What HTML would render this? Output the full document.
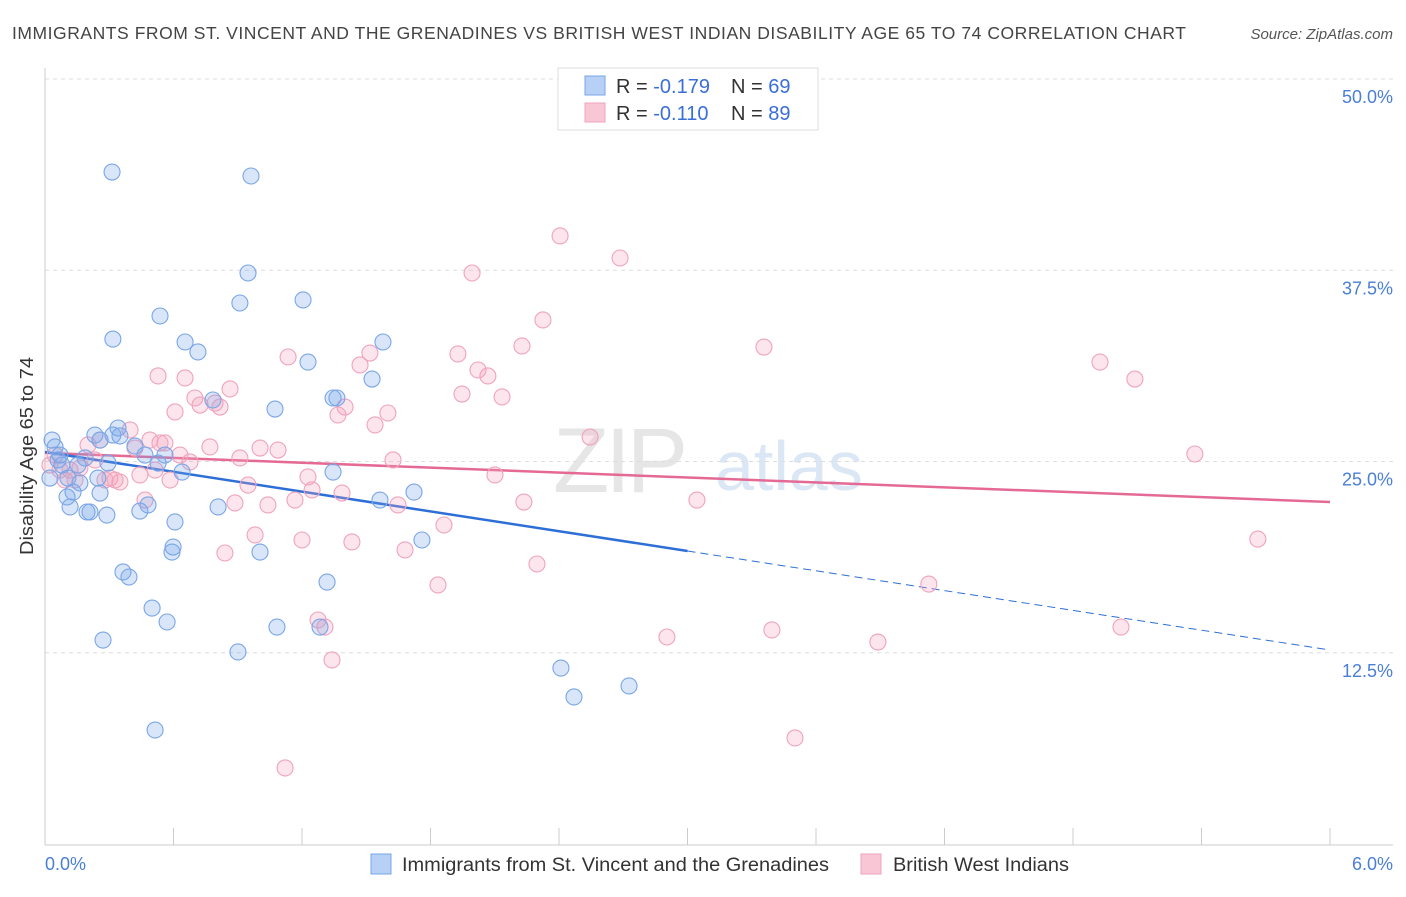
<!DOCTYPE html>
<html><head><meta charset="utf-8"><style>
body{margin:0;background:#fff;font-family:"Liberation Sans",sans-serif;}
svg text{font-family:"Liberation Sans",sans-serif;}
</style></head><body>
<svg id="chart" width="1406" height="892" xmlns="http://www.w3.org/2000/svg">
<text x="12" y="39" font-size="17.5" fill="#444" textLength="1174" lengthAdjust="spacing">IMMIGRANTS FROM ST. VINCENT AND THE GRENADINES VS BRITISH WEST INDIAN DISABILITY AGE 65 TO 74 CORRELATION CHART</text>
<text x="1393" y="39" font-size="15" fill="#555" font-style="italic" text-anchor="end">Source: ZipAtlas.com</text>
<g>
<text x="553" y="492" font-size="92" fill="#e6e6e6" font-family="Liberation Serif" letter-spacing="-4">ZIP</text>
<text x="715" y="490" font-size="70" fill="#dbe7f5">atlas</text>
</g>
<g id="grid"></g>
<g id="axes"></g>
<g id="trends"></g>
<g id="points"></g>
<text transform="translate(33,456) rotate(-90)" font-size="18" fill="#333" text-anchor="middle" textLength="198" lengthAdjust="spacingAndGlyphs">Disability Age 65 to 74</text>
<g>
<rect x="558" y="68" width="260" height="62" fill="#fff" stroke="#ddd"/>
<rect x="585" y="76" width="20" height="19" fill="#b7d0f5" stroke="#7aa6e8"/>
<rect x="585" y="103" width="20" height="19" fill="#f9c6d6" stroke="#eea4bd"/>
<text x="616" y="93" font-size="20" fill="#333">R = <tspan fill="#3a6fd8">-0.179</tspan><tspan x="731">N = </tspan><tspan fill="#3a6fd8">69</tspan></text>
<text x="616" y="120" font-size="20" fill="#333">R = <tspan fill="#3a6fd8">-0.110</tspan><tspan x="731">N = </tspan><tspan fill="#3a6fd8">89</tspan></text>
</g>
<g>
<rect x="371" y="854" width="20" height="20" fill="#b7d0f5" stroke="#7aa6e8"/>
<text x="402" y="871" font-size="19" fill="#333" textLength="427" lengthAdjust="spacingAndGlyphs">Immigrants from St. Vincent and the Grenadines</text>
<rect x="861" y="854" width="20" height="20" fill="#f9c6d6" stroke="#eea4bd"/>
<text x="893" y="871" font-size="19" fill="#333" textLength="176" lengthAdjust="spacingAndGlyphs">British West Indians</text>
</g>
</svg>
<script>
const yTicks=[12.5,25,37.5,50];
const yTickLabels=["12.5%","25.0%","37.5%","50.0%"];
const xTickLabels=["0.0%","6.0%"];
const blueX=[0.033,0.047,0.023,0.061,0.079,0.103,0.117,0.131,0.154,0.163,0.187,0.196,0.21,0.233,0.247,0.257,0.271,0.289,0.294,0.313,0.317,0.341,0.35,0.364,0.392,0.42,0.443,0.467,0.481,0.5,0.514,0.528,0.537,0.56,0.57,0.593,0.598,0.607,0.64,0.654,0.714,0.784,0.808,0.901,0.91,0.948,0.962,1.004,1.074,1.083,1.205,1.228,1.284,1.317,1.345,1.363,1.345,1.527,1.564,1.578,1.723,1.76,2.409,2.47,2.727,0.317,0.107,0.07,0.257];
const blueY=[26.4,25.95,23.92,25.1,24.77,22.68,22.03,23.0,24.77,23.6,25.23,21.7,21.7,26.73,23.92,22.94,13.33,21.5,24.9,43.92,33.0,27.19,26.67,17.78,17.45,26.01,21.76,25.42,22.16,15.42,7.45,24.9,34.51,25.42,14.51,19.08,19.41,21.05,24.31,32.81,32.16,29.02,22.03,12.55,35.36,37.32,43.66,19.08,28.43,14.18,35.56,31.5,14.18,17.12,29.15,29.15,24.31,30.39,22.48,32.81,23.0,19.87,11.5,9.61,10.33,26.73,23.92,25.42,26.4];
const pinkX=[0.023,0.047,0.07,0.093,0.117,0.14,0.163,0.201,0.233,0.257,0.28,0.303,0.327,0.35,0.397,0.42,0.443,0.467,0.49,0.514,0.528,0.537,0.56,0.584,0.607,0.63,0.654,0.677,0.7,0.724,0.77,0.794,0.817,0.84,0.864,0.887,0.91,0.948,0.981,1.004,1.041,1.088,1.121,1.135,1.167,1.2,1.228,1.247,1.275,1.307,1.34,1.368,1.387,1.401,1.433,1.471,1.517,1.541,1.601,1.625,1.648,1.681,1.835,1.863,1.928,1.947,1.994,2.022,2.068,2.101,2.134,2.227,2.236,2.297,2.325,2.405,2.545,2.685,2.904,3.044,3.357,3.394,3.502,3.889,4.127,4.926,5.024,5.089,5.369,5.663];
const pinkY=[24.77,25.42,24.44,23.79,24.44,23.79,24.58,26.08,25.1,26.4,23.79,23.92,23.79,23.66,27.06,25.88,24.12,22.48,26.4,24.44,30.59,26.21,26.21,23.79,28.24,25.42,30.46,24.97,29.15,28.69,25.95,28.82,28.56,19.02,29.74,22.29,25.23,23.46,20.2,25.88,22.16,25.75,4.97,31.83,22.48,19.87,23.99,23.14,14.64,14.18,12.03,28.04,22.94,28.56,19.74,31.31,32.09,27.39,28.17,25.1,22.16,19.22,16.93,20.85,32.03,29.41,37.32,30.98,30.59,24.12,29.22,32.55,22.35,18.3,34.25,39.74,26.6,38.3,13.53,22.48,32.48,13.99,6.93,13.2,16.99,31.5,14.18,30.39,25.49,19.93];
const blueTrend=[25.62,12.68];
const pinkTrend=[25.56,22.35];
const blueSolidEnd=3.0;

const NS="http://www.w3.org/2000/svg";
const X0=45,X1=1330,YTOP=79,YPX=15.3;
const sx=v=>X0+v/6*(X1-X0);
const sy=v=>YTOP+(50-v)*YPX;
function mk(tag,attrs,parent){const e=document.createElementNS(NS,tag);for(const k in attrs)e.setAttribute(k,attrs[k]);parent.appendChild(e);return e;}
const grid=document.getElementById('grid'),axes=document.getElementById('axes'),trends=document.getElementById('trends'),pts=document.getElementById('points');
yTicks.forEach((t,i)=>{
 const l=mk('line',{x1:45,x2:1393,y1:sy(t),y2:sy(t),stroke:'#ddd','stroke-dasharray':'4,4'},grid);
 
 
 const tx=mk('text',{x:1393,y:sy(t)+24,'font-size':18,fill:'#4a7fd6','text-anchor':'end'},axes);
 tx.textContent=yTickLabels[i];
 
 
});
mk('line',{x1:45,x2:45,y1:68,y2:845,stroke:'#ccc'},axes);
mk('line',{x1:45,x2:1393,y1:845,y2:845,stroke:'#ccc'},axes);
for(let i=0;i<=10;i++){const tk=mk('line',{x1:sx(i*0.6),x2:sx(i*0.6),y1:828,y2:845,stroke:'#ccc'},axes);
 
 }
const xl0=mk('text',{x:45,y:870,'font-size':18,fill:'#4a7fd6'},axes);xl0.textContent=xTickLabels[0];


const xl1=mk('text',{x:1393,y:870,'font-size':18,fill:'#4a7fd6','text-anchor':'end'},axes);xl1.textContent=xTickLabels[1];


function drawPts(xs,ys,fill,stroke,name){xs.forEach((x,i)=>{const c=mk('circle',{cx:sx(x),cy:sy(ys[i]),r:8,fill:fill,stroke:stroke,'stroke-width':1.1},pts);
 
 });}
drawPts(pinkX,pinkY,'rgba(244,160,188,0.28)','#f0a3bd','pink-point');
drawPts(blueX,blueY,'rgba(120,165,232,0.28)','#7aa6e6','blue-point');
const bAt=x=>blueTrend[0]+(blueTrend[1]-blueTrend[0])*x/6;
const pl=mk('line',{x1:sx(0),y1:sy(pinkTrend[0]),x2:sx(6),y2:sy(pinkTrend[1]),stroke:'#e46a95','stroke-width':2.5},trends);


const bl=mk('line',{x1:sx(0),y1:sy(bAt(0)),x2:sx(blueSolidEnd),y2:sy(bAt(blueSolidEnd)),stroke:'#2d6fd6','stroke-width':2.5},trends);


const bd=mk('line',{x1:sx(blueSolidEnd),y1:sy(bAt(blueSolidEnd)),x2:sx(6),y2:sy(bAt(6)),stroke:'#2d6fd6','stroke-width':1,'stroke-dasharray':'8,5'},trends);


</script>
</body></html>
